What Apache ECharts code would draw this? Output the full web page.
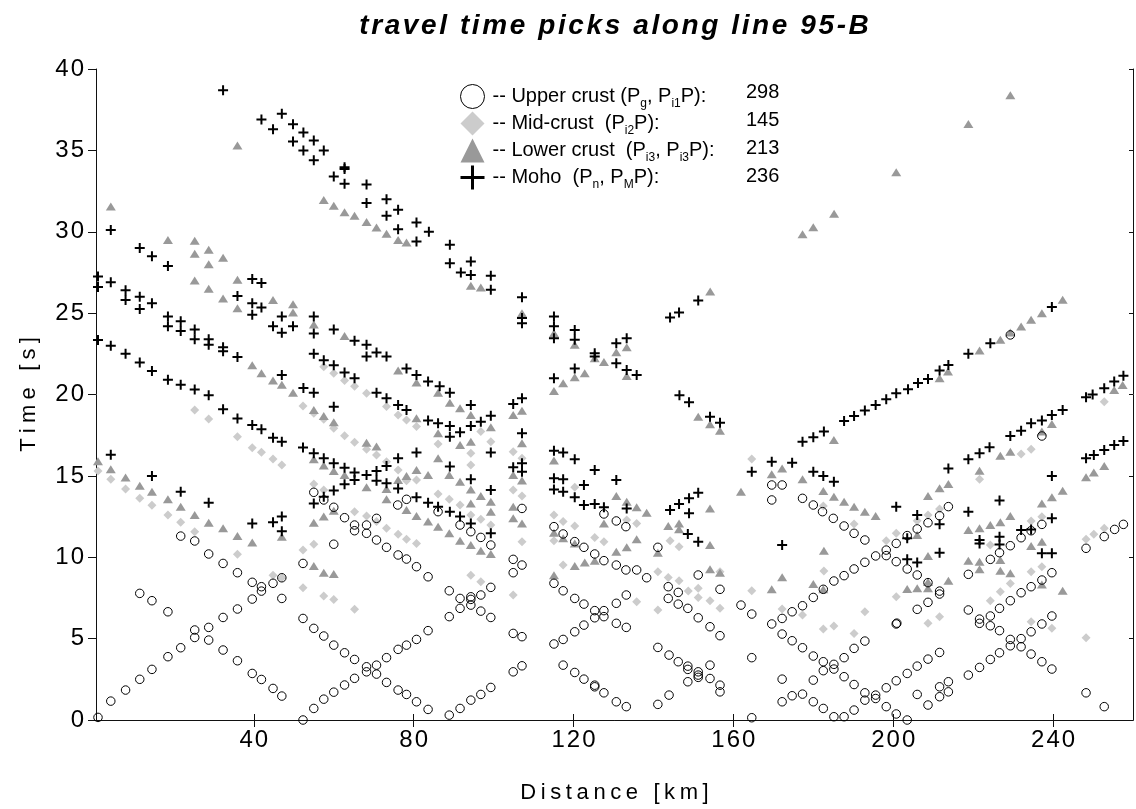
<!DOCTYPE html>
<html>
<head>
<meta charset="utf-8">
<script src="https://cdn.jsdelivr.net/npm/echarts@6/dist/echarts.min.js"></script>
<style>
html,body{margin:0;padding:0;background:#fff;}
#chart{width:1136px;height:809px;}
</style>
</head>
<body>
<div id="chart"></div>
<script>
// ---------------- data ----------------
const titleText = 'travel time picks along line 95-B';
const xName = 'Distance [km]';
const yName = 'Time [s]';
const xTicks = [40, 80, 120, 160, 200, 240];
const xMin = 0.5, xMax = 260;
const yMin = 0, yMax = 40, yStep = 5;
const seriesNames = ['upper', 'mid', 'lower', 'moho'];
const counts = ['298', '145', '213', '236'];

const upperCrust = [
[21.7,11.3],[25.2,11.0],[28.7,10.2],[32.3,9.62],[35.9,9.05],[39.6,8.46],[41.9,8.19],[41.9,7.92],[44.8,8.4],[47.0,8.74],
[39.6,7.43],[47.0,7.47],[35.9,6.82],[32.3,6.3],[28.7,5.69],[25.2,5.53],[25.2,5.07],[21.7,4.44],[18.5,3.89],[14.5,3.11],
[11.45,2.5],[7.9,1.84],[4.2,1.16],[1.0,0.16],[11.45,7.78],[14.5,7.33],[18.5,6.65],[28.7,4.91],[32.3,4.3],[35.9,3.64],
[39.6,2.86],[41.9,2.49],[44.8,1.94],[47.0,1.47],[52.3,0.0],[55.0,0.71],[57.5,1.28],[60.0,1.71],[62.7,2.15],[65.2,2.56],
[52.3,6.24],[55.0,5.63],[57.5,5.16],[60.0,4.6],[62.7,4.13],[65.2,3.72],[52.3,9.62],[55.0,13.99],[57.5,13.52],[60.0,13.07],
[62.7,12.43],[65.2,11.98],[65.2,11.63],[60.0,10.8],
[76.0,13.21],[78.2,13.56],[86.1,12.8],[91.6,11.98],[94.3,11.57],[96.8,11.22],[99.3,10.75],[68.2,11.98],[68.2,11.47],[70.7,12.39],
[70.7,11.06],[73.2,10.61],[76.1,10.14],[78.2,9.89],[80.7,9.42],[83.6,8.8],[88.9,7.94],[91.6,7.47],[94.3,7.57],[94.3,7.41],
[94.3,7.06],[96.8,7.68],[99.3,8.15],[96.8,6.69],[99.3,6.3],[88.9,6.35],[91.6,6.86],[104.9,9.87],[107.1,9.52],[104.9,9.05],
[107.1,13.0],[104.9,5.32],[107.1,5.12],[104.9,2.96],[107.1,3.33],[68.2,3.27],[68.2,2.96],[70.7,3.37],[70.7,2.82],[73.2,3.83],
[76.1,4.34],[78.2,4.6],[80.7,4.95],[83.6,5.49],[73.2,2.31],[76.1,1.84],[78.2,1.57],[80.7,1.12],[83.6,0.65],[88.9,0.3],
[91.6,0.71],[94.3,1.22],[96.8,1.57],[99.3,2.0],[115.1,11.88],[117.4,11.43],[120.3,10.96],[122.6,10.61],[125.3,10.2],[127.6,9.79],
[130.7,12.23],[127.6,12.66],[130.7,9.52],[115.1,8.4],[117.4,7.94],[120.3,7.47],[122.6,7.12],[125.3,6.72],[127.6,6.72],[125.3,6.28],
[127.6,6.35],[130.7,7.17],[130.7,5.94],[115.1,4.67],[117.4,4.95],[120.3,5.42],[122.6,5.83],[117.4,3.37],[120.3,2.92],[122.6,2.51],
[125.3,2.14],[125.3,2.04],[127.6,1.67],[130.7,1.12],
[133.1,11.88],[133.1,9.22],[135.8,9.22],[138.3,8.74],[141.1,10.61],[133.2,7.68],[133.2,5.69],[133.2,0.82],[141.1,0.96],[143.9,1.53],
[141.1,4.46],[143.9,3.99],[146.2,3.58],[148.6,3.31],[148.6,3.11],[151.2,2.96],[151.2,2.76],[148.6,2.35],[151.2,2.62],[154.15,3.37],
[154.15,2.55],[156.65,2.14],[156.65,1.73],[143.7,7.47],[146.2,7.84],[146.2,7.12],[148.6,6.86],[151.2,8.91],[151.2,6.28],[154.15,5.73],
[156.65,5.18],[156.65,8.03],[161.9,7.06],[164.6,6.51],[164.6,3.83],[164.6,0.14],[169.6,14.44],[169.6,13.52],[172.2,14.44],[177.3,13.62],
[180.0,13.21],[182.3,12.8],[185.0,12.39],[187.7,11.92],[190.2,11.47],[192.9,11.06],[195.6,10.08],[192.9,9.69],[190.2,9.28],[187.7,8.87],
[185.15,8.54],[182.5,8.03],[180.0,7.53],[177.3,7.02],[174.7,6.65],[172.2,6.24],[169.6,5.9],[172.2,5.28],[174.7,4.87],[177.3,4.44],
[180.0,3.93],[182.5,3.58],[182.5,3.03],[185.15,3.42],[185.15,3.13],[187.7,3.83],[190.2,4.4],[192.9,4.85],[187.7,2.66],[190.2,2.18],
[192.9,1.67],[195.6,1.53],[192.9,1.22],[195.6,1.32],[190.2,0.61],[187.7,0.2],[185.15,0.2],[182.5,0.71],[180.0,1.12],[177.3,1.59],
[174.7,1.49],[172.2,1.12],[172.2,2.51],[180.0,2.45],[143.7,8.19],
[229.3,23.66],[237.2,17.45],[198.25,10.44],[198.25,10.1],[200.75,10.85],[203.5,11.33],[206.0,11.74],[208.7,12.12],[211.6,12.55],[213.8,13.11],
[200.75,9.73],[203.5,9.28],[206.0,8.91],[208.7,8.44],[211.6,7.92],[211.6,7.74],[206.0,6.8],[208.7,7.23],[200.75,5.9],[200.9,5.95],
[218.8,8.95],[224.3,9.87],[226.6,10.28],[229.3,10.71],[232.0,11.2],[234.5,11.63],[237.2,12.02],[218.8,6.76],[221.6,6.2],[221.6,5.94],
[224.3,6.39],[224.3,5.79],[226.6,5.49],[229.3,4.95],[229.3,4.56],[232.0,5.0],[232.0,4.5],[234.5,4.05],[237.2,3.58],[239.7,3.13],
[226.6,6.86],[229.3,7.33],[232.0,7.82],[234.5,8.19],[237.2,8.6],[239.7,9.05],[234.5,5.42],[237.2,5.9],[239.7,6.39],[218.8,2.76],
[221.6,3.23],[224.3,3.72],[226.6,4.13],[198.25,1.98],[200.75,2.41],[203.5,2.86],[206.0,3.31],[208.7,3.74],[211.6,4.15],[198.25,0.82],
[200.75,0.37],[203.5,0.0],[206.0,1.57],[208.7,0.92],[211.6,1.43],[211.6,2.04],[213.8,2.35],[213.8,1.73],[248.25,10.55],[252.8,11.27],
[255.4,11.71],[257.6,12.02],[248.25,1.67],[252.8,0.82]
];

const midCrust = [
[57.5,21.7],[60.0,21.3],[62.7,20.86],[65.2,20.5],
[25.2,19.05],[28.7,18.5],[35.9,17.41],[39.6,16.73],[41.9,16.45],[44.8,16.04],[47.0,15.67],[52.3,19.3],[55.0,18.85],[57.5,18.48],
[60.0,17.92],[62.7,17.47],[65.2,17.06],[1.0,15.3],[4.2,14.8],[7.9,14.2],[11.45,13.62],[14.5,13.19],[18.5,12.6],[21.7,12.15],
[25.2,11.57],[35.9,10.18],[44.8,8.9],[55.0,14.5],[57.5,14.13],[55.0,10.8],[52.3,10.44],[52.3,8.13],[57.5,7.62],[60.0,7.41],
[65.2,6.8],[65.2,12.8],[47.0,8.74],
[68.2,20.08],[73.2,19.26],[76.1,18.74],[78.2,18.44],[80.7,18.03],[86.1,16.96],[96.8,17.72],[99.3,17.1],[94.3,16.39],[94.3,15.67],
[68.2,16.63],[70.7,16.28],[73.2,15.87],[76.1,15.36],[78.2,14.7],[80.7,14.75],[86.1,13.89],[88.9,13.56],[91.6,13.21],[94.3,12.6],
[96.8,12.33],[99.3,11.98],[68.2,12.53],[70.7,12.19],[73.2,11.78],[76.1,11.41],[78.2,11.1],[80.7,10.85],[104.9,16.49],[107.1,16.08],
[104.9,14.13],[107.1,13.76],[107.1,10.96],[104.9,7.68],[94.3,8.9],[96.8,8.5],[115.1,12.6],[117.4,12.19],[120.3,11.92],[115.1,11.02],
[117.4,9.52],[125.3,11.22],[127.6,10.96],[120.3,14.3],
[164.6,16.04],[133.3,12.29],[135.8,12.08],[144.15,11.02],[146.4,10.65],[141.1,9.11],[143.7,8.76],[146.4,8.56],[148.7,7.92],[151.2,8.09],
[151.2,7.53],[154.15,7.33],[156.65,9.11],[156.65,6.86],[141.1,6.76],[135.8,7.27],[164.6,7.94],[172.2,6.82],[177.3,6.45],[182.5,13.15],
[182.65,9.15],[182.5,5.59],[185.15,5.77],[190.2,12.04],[190.2,5.32],[192.9,6.65],
[252.8,19.56],[232.0,16.35],[234.5,16.63],[221.6,14.79],[198.25,11.02],[200.75,11.47],[206.0,12.25],[208.7,12.6],[211.6,12.96],[224.3,10.75],
[234.5,12.23],[237.2,12.49],[200.75,7.57],[208.7,5.94],[211.6,6.35],[224.3,7.33],[226.8,7.88],[229.3,8.39],[234.5,9.11],[237.2,9.42],
[234.5,6.04],[239.7,5.63],[248.25,5.05],[248.25,11.1],[250.2,11.41],[252.8,11.78]
];

const lowerCrust = [
[35.9,35.3],[4.2,31.55],[57.5,31.95],[60.0,31.6],[62.7,31.2],[65.2,30.98],[18.5,29.5],[25.2,29.45],[25.2,28.65],[28.7,28.9],
[28.7,28.0],[32.3,28.4],[25.2,27.0],[28.7,26.5],[32.3,25.9],[35.9,27.05],[35.9,25.3],[44.8,25.8],[49.8,25.55],[49.8,25.04],
[55.0,24.3],[62.7,23.6],[39.6,21.8],[41.9,21.3],[44.8,20.86],[47.0,20.6],[49.8,20.1],
[55.0,19.05],[57.5,18.68],[60.0,18.29],[55.0,16.02],[57.5,15.63],[60.0,15.3],[62.7,15.05],[1.0,15.9],[4.2,15.4],[7.9,14.9],
[11.45,14.4],[14.5,14.03],[18.5,13.56],[21.7,13.1],[25.2,12.6],[28.7,12.12],[32.3,11.78],[35.9,11.3],[39.6,10.9],[47.0,11.26],
[55.0,12.12],[57.5,12.5],[60.0,12.86],[55.0,9.46],[57.5,9.05],[60.0,8.97],
[68.2,30.6],[70.7,30.26],[73.2,29.87],[76.1,29.5],[78.2,29.34],[94.3,26.68],[96.8,26.57],[107.1,25.0],[115.1,23.77],[120.3,23.05],
[125.3,22.23],[127.6,22.0],[130.7,22.6],[76.1,21.47],[80.7,20.73],[115.1,20.22],[117.4,20.69],[120.3,21.06],[122.8,21.3],[86.1,20.1],
[89.05,19.5],[91.6,19.15],[94.3,18.74],[99.3,17.99],[104.9,18.74],[107.1,19.0],[107.1,17.0],[80.7,18.54],[86.1,17.62],[91.6,16.9],
[94.3,17.1],[68.2,17.04],[70.7,16.8],[86.1,16.08],[80.7,15.36],[83.6,15.05],[78.2,14.99],[76.1,14.75],[68.2,14.3],[73.2,14.2],
[88.9,15.05],[91.6,14.64],[94.3,14.17],[96.8,13.76],[99.3,13.41],[99.3,12.8],[104.9,15.05],[107.1,14.71],[104.9,13.11],[104.9,12.39],
[107.1,12.08],[73.2,13.56],[78.2,12.9],[80.7,12.53],[83.6,12.19],[86.1,11.88],[88.9,11.47],[91.6,11.02],[94.3,10.75],[96.8,10.4],
[99.3,10.2],[94.3,13.31],[115.1,15.94],[117.4,11.16],[115.1,11.51],[120.3,10.85],[127.6,12.08],[130.7,13.76],[115.1,8.9],[120.3,9.46],
[122.8,9.67],[125.3,9.79],[130.7,10.34],
[177.3,29.85],[180.0,30.28],[185.2,31.1],[154.2,26.33],[133.3,22.9],[133.3,21.14],
[151.2,18.64],[154.15,18.17],[156.65,17.78],[185.15,17.21],[169.6,15.1],[172.2,15.46],[177.3,14.79],[182.5,14.07],[185.15,13.72],[187.7,13.41],
[190.2,13.11],[192.9,12.8],[195.6,12.53],[161.9,14.03],[133.3,13.41],[135.8,13.07],[138.3,12.74],[154.15,13.0],[143.7,11.92],[146.4,12.08],
[146.4,11.72],[133.3,10.61],[135.8,11.1],[141.1,10.28],[154.15,10.75],[154.15,9.26],[156.65,9.05],[182.65,10.4],[172.2,8.77],[169.6,8.03],
[180.0,8.36],[182.5,8.03],
[200.75,33.66],[218.8,36.62],[229.3,38.38],[242.4,25.82],[237.2,25.0],[234.5,24.59],[232.0,24.18],[229.3,23.81],[226.8,23.36],[221.6,22.7],
[213.7,21.41],[211.6,21.0],[255.3,20.28],[257.4,20.59],
[229.3,16.49],[226.8,16.24],[221.6,15.32],[237.2,17.72],[239.7,18.19],[248.25,14.91],[250.2,15.2],[252.8,15.61],[213.8,14.5],[211.6,14.24],
[208.7,13.76],[242.4,14.09],[239.7,13.68],[237.2,13.31],[206.0,11.37],[218.8,11.67],[221.6,11.78],[224.3,11.98],[226.8,12.15],[229.3,12.53],
[234.5,10.69],[237.2,10.96],[218.8,9.79],[221.6,9.73],[221.6,9.26],[226.8,9.83],[226.8,9.17],[229.3,9.01],[208.7,10.08],[213.8,8.56],
[208.7,8.09],[206.0,8.09],[203.5,8.05],[237.2,8.33],[242.4,7.94],[208.7,8.48]
];

const moho = [
[32.3,38.7],[41.9,36.9],[44.8,36.3],[47.0,37.25],[49.8,36.6],[52.4,36.1],[49.8,35.55],[55.0,35.6],[52.4,35.0],[57.5,35.0],
[55.0,34.4],[62.7,33.97],[62.7,33.85],[60.0,33.4],[62.7,32.95],[4.2,30.1],[11.45,29.0],[14.5,28.5],[18.5,27.9],[1.0,27.25],
[1.0,26.6],[4.2,26.9],[7.9,26.4],[7.9,25.8],[11.45,26.0],[11.45,25.25],[14.5,25.6],[18.5,24.8],[18.5,24.2],[21.7,24.5],
[21.7,23.9],[25.2,24.0],[25.2,23.4],[28.7,23.4],[28.7,23.05],[32.3,22.9],[32.3,22.65],[35.9,22.3],[39.6,27.1],[41.9,26.85],
[35.9,26.05],[39.6,25.6],[41.9,25.35],[39.6,24.9],[47.0,24.8],[44.8,24.2],[47.0,23.8],[49.8,24.2],[55.0,24.8],[55.0,23.75],
[60.0,24.0],[65.2,23.3],[55.0,22.5],[57.5,22.1],[60.0,21.8],[62.7,21.35],[65.2,21.0],[1.0,23.35],[4.2,23.0],[7.9,22.5],
[11.45,21.96],[14.5,21.45],[18.5,20.9],[21.7,20.6],[25.2,20.3],[28.7,19.95],[47.0,21.2],[52.4,20.4],[55.0,20.1],
[32.3,19.1],[35.9,18.52],[39.6,18.13],[41.9,17.86],[44.8,17.35],[47.0,17.1],[52.3,16.74],[55.0,16.39],[57.5,16.08],[60.0,15.77],
[62.7,15.5],[65.2,15.2],[65.2,14.75],[62.7,14.48],[60.0,14.1],[57.5,13.72],[55.0,13.3],[60.0,19.25],[4.2,16.3],[14.5,14.99],
[21.7,14.03],[28.7,13.35],[39.6,12.08],[44.8,12.15],[47.0,12.5],[47.0,11.6],
[68.2,32.9],[68.2,31.76],[73.2,32.0],[73.2,30.98],[76.1,31.35],[76.1,30.16],[80.7,30.57],[80.7,29.4],[83.8,30.0],[89.05,29.2],
[89.05,28.07],[91.8,27.5],[94.3,28.17],[94.3,27.35],[99.3,27.3],[99.3,26.43],[107.1,25.98],[107.1,24.7],[107.1,24.38],[115.1,24.8],
[115.1,24.2],[115.1,23.46],[120.3,23.97],[120.3,23.36],[125.3,22.54],[125.3,22.33],[130.7,23.15],[130.7,21.92],[120.3,21.6],[115.1,21.0],
[68.2,23.05],[70.7,22.58],[73.2,22.33],[68.2,22.33],[78.2,21.6],[80.7,21.2],[83.6,20.8],[86.5,20.5],[89.05,20.1],[70.7,20.1],
[73.2,19.77],[76.1,19.36],[78.2,19.05],[83.6,18.4],[86.1,18.23],[89.05,18.07],[89.05,17.41],[91.6,17.68],[94.3,19.36],[94.3,18.07],
[96.8,18.33],[99.3,18.7],[104.9,19.42],[107.1,19.77],[107.1,17.62],[99.3,16.43],[80.7,16.43],[76.1,16.08],[73.2,15.61],[70.7,15.3],
[68.2,15.05],[70.7,14.7],[73.2,14.54],[76.1,14.23],[80.7,13.68],[83.6,13.35],[86.1,13.11],[89.05,12.8],[91.6,12.5],[94.3,12.08],
[99.3,11.47],[99.3,14.13],[94.3,14.79],[89.05,15.57],[104.9,15.53],[107.1,15.77],[107.1,15.26],[115.1,16.55],[117.4,16.43],[120.3,16.02],
[125.3,15.36],[130.7,14.75],[115.1,14.85],[117.4,14.79],[115.1,14.17],[117.4,14.03],[122.6,14.44],[120.3,13.68],[122.6,13.21],[125.3,13.27],
[127.6,13.07],
[144.15,24.73],[146.4,25.04],[151.2,25.77],[133.3,23.46],[133.3,21.5],[135.8,21.2],[146.5,19.95],
[148.9,19.52],[154.15,18.64],[156.65,18.27],[133.3,13.0],[144.15,12.9],[146.4,13.27],[148.9,13.62],[151.2,13.97],[148.9,12.7],
[148.6,11.43],[151.2,10.96],[164.6,15.26],[169.6,15.87],[174.7,15.81],[177.3,17.1],[180.0,17.37],[182.65,17.72],[187.7,18.37],[190.2,18.68],
[192.9,19.01],[195.6,19.36],[180.0,15.26],[182.5,14.99],[185.15,14.64],[172.2,10.75],
[239.7,25.37],[224.3,23.15],[218.8,22.5],[213.8,21.82],[211.6,21.47],[208.7,20.96],[206.2,20.7],[203.7,20.32],[200.75,20.08],[252.8,20.39],
[255.3,20.8],[257.6,21.15],
[198.25,19.71],[248.25,19.83],[249.9,20.0],[242.4,19.05],[239.7,18.74],[237.2,18.4],[234.5,18.23],[232.0,17.78],[229.3,17.45],[224.1,16.76],
[221.6,16.39],[218.8,16.02],[213.8,15.46],[248.25,16.08],[250.2,16.28],[252.8,16.59],[255.3,16.9],[257.6,17.15],[239.7,14.99],[200.75,13.11],
[206.0,12.6],[211.6,12.02],[218.8,12.8],[226.6,13.48],[239.7,12.39],[203.5,11.16],[221.6,11.06],[221.6,10.85],[226.6,11.26],[226.6,10.79],
[232.0,11.67],[234.5,11.71],[237.2,10.24],[239.7,10.24],[203.5,9.87],[206.0,9.67],[211.6,10.28]
];

// ---------------- chart ----------------
const FONT = "'Liberation Sans', Arial, sans-serif";
const PLUS = 'path://M4,0H6V4H10V6H6V10H4V6H0V4H4Z';
const PLUS_LEG = 'path://M10.5,0H13.5V10.5H24V13.5H13.5V24H10.5V13.5H0V10.5H10.5Z';

// letter-spaced rich text helper
function spaced(str, style) {
  return str.split('').map(c => '{' + style + '|' + c + '}').join('');
}

const legendRich = {
  upper: '{t|-- Upper crust (P}{s|g}{t|, P}{s|i1}{t|P):}',
  mid:   '{t|-- Mid-crust  (P}{s|i2}{t|P):}',
  lower: '{t|-- Lower crust  (P}{s|i3}{t|, P}{s|i3}{t|P):}',
  moho:  '{t|-- Moho  (P}{s|n}{t|, P}{s|M}{t|P):}'
};

const chart = echarts.init(document.getElementById('chart'), null, {renderer: 'canvas'});

const axisLineStyle = {color: '#111', width: 1};
const tickRich = {d: {fontSize: 24, color: '#000', fontFamily: FONT, padding: [0, 1, 0, 1]}};

const option = {
  animation: false,
  backgroundColor: '#fff',
  textStyle: {fontFamily: FONT},
  grid: {left: 96, right: 3, top: 69, bottom: 89, containLabel: false},
  xAxis: [{
    type: 'value', min: xMin, max: xMax, position: 'bottom',
    axisLine: {show: true, lineStyle: axisLineStyle},
    axisTick: {show: true, inside: false, length: 7, customValues: xTicks, lineStyle: axisLineStyle},
    axisLabel: {show: true, customValues: xTicks, margin: 8, formatter: v => spaced(String(v), 'd'), rich: tickRich},
    splitLine: {show: false},
    name: spaced(xName, 'c'), nameLocation: 'middle', nameGap: 62,
    nameTextStyle: {rich: {c: {fontSize: 22, color: '#000', fontFamily: FONT, padding: [0, 2.3, 0, 2.3]}}}
  }, {
    type: 'value', min: xMin, max: xMax, position: 'top',
    axisLine: {show: true, lineStyle: axisLineStyle},
    axisTick: {show: true, inside: false, length: 6, customValues: xTicks, lineStyle: axisLineStyle},
    axisLabel: {show: false},
    splitLine: {show: false}
  }],
  yAxis: [{
    type: 'value', min: yMin, max: yMax, interval: yStep, position: 'left',
    axisLine: {show: true, lineStyle: axisLineStyle},
    axisTick: {show: true, inside: false, length: 8, lineStyle: axisLineStyle},
    axisLabel: {show: true, margin: 11, formatter: v => spaced(String(v), 'd'), rich: tickRich},
    splitLine: {show: false},
    name: spaced(yName, 'c'), nameLocation: 'middle', nameGap: 56, nameRotate: 90,
    nameTextStyle: {rich: {c: {fontSize: 22, color: '#000', fontFamily: FONT, padding: [0, 2.6, 0, 2.6]}}}
  }, {
    type: 'value', min: yMin, max: yMax, interval: yStep, position: 'right',
    axisLine: {show: true, lineStyle: axisLineStyle},
    axisTick: {show: true, inside: true, length: 4, lineStyle: axisLineStyle},
    axisLabel: {show: false},
    splitLine: {show: false}
  }],
  legend: {
    show: true, orient: 'vertical', left: 455, top: 79,
    itemWidth: 24, itemHeight: 24, itemGap: 2, selectedMode: false,
    textStyle: {
      padding: [0, 0, 0, 3],
      rich: {
        t: {fontSize: 20, color: '#000', fontFamily: FONT, lineHeight: 26},
        s: {fontSize: 12, color: '#000', fontFamily: FONT, lineHeight: 10, verticalAlign: 'bottom'}
      }
    },
    formatter: name => legendRich[name],
    data: [
      {name: 'upper', icon: 'circle', itemStyle: {color: 'rgba(255,255,255,0)', borderColor: '#000', borderWidth: 1}},
      {name: 'mid', icon: 'diamond', itemStyle: {color: '#cccccc', borderWidth: 0}},
      {name: 'lower', icon: 'triangle', itemStyle: {color: '#999999', borderWidth: 0}},
      {name: 'moho', icon: PLUS_LEG, itemStyle: {color: '#000', borderWidth: 0}}
    ]
  },
  graphic: [
    {type: 'text', x: 614, y: 26, z: 10,
     style: {text: spaced(titleText, 'h'), align: 'center', verticalAlign: 'middle',
       rich: {h: {fontSize: 28, fontWeight: 'bold', fontStyle: 'italic', fill: '#000', fontFamily: FONT, padding: [0, 1.3, 0, 1.3]}}}}
  ].concat(counts.map((c, i) => ({
    type: 'text', x: 746, y: 92 + i * 28.2, z: 10,
    style: {text: c, fontSize: 20, fontFamily: FONT, fill: '#000', verticalAlign: 'middle', align: 'left'}
  }))),
  series: [
    {name: 'mid', type: 'scatter', data: midCrust, symbol: 'diamond', symbolSize: [9, 9], z: 2,
     itemStyle: {color: '#cccccc', opacity: 1}, emphasis: {disabled: true}},
    {name: 'lower', type: 'scatter', data: lowerCrust, symbol: 'triangle', symbolSize: [10, 8], z: 3,
     itemStyle: {color: '#999999', opacity: 1}, emphasis: {disabled: true}},
    {name: 'upper', type: 'scatter', data: upperCrust, symbol: 'circle', symbolSize: 8.5, z: 4,
     itemStyle: {color: 'rgba(255,255,255,0)', borderColor: '#000', borderWidth: 1, opacity: 1}, emphasis: {disabled: true}},
    {name: 'moho', type: 'scatter', data: moho, symbol: PLUS, symbolSize: 10, z: 5,
     itemStyle: {color: '#000', opacity: 1}, emphasis: {disabled: true}}
  ]
};
chart.setOption(option);
</script>
</body>
</html>
